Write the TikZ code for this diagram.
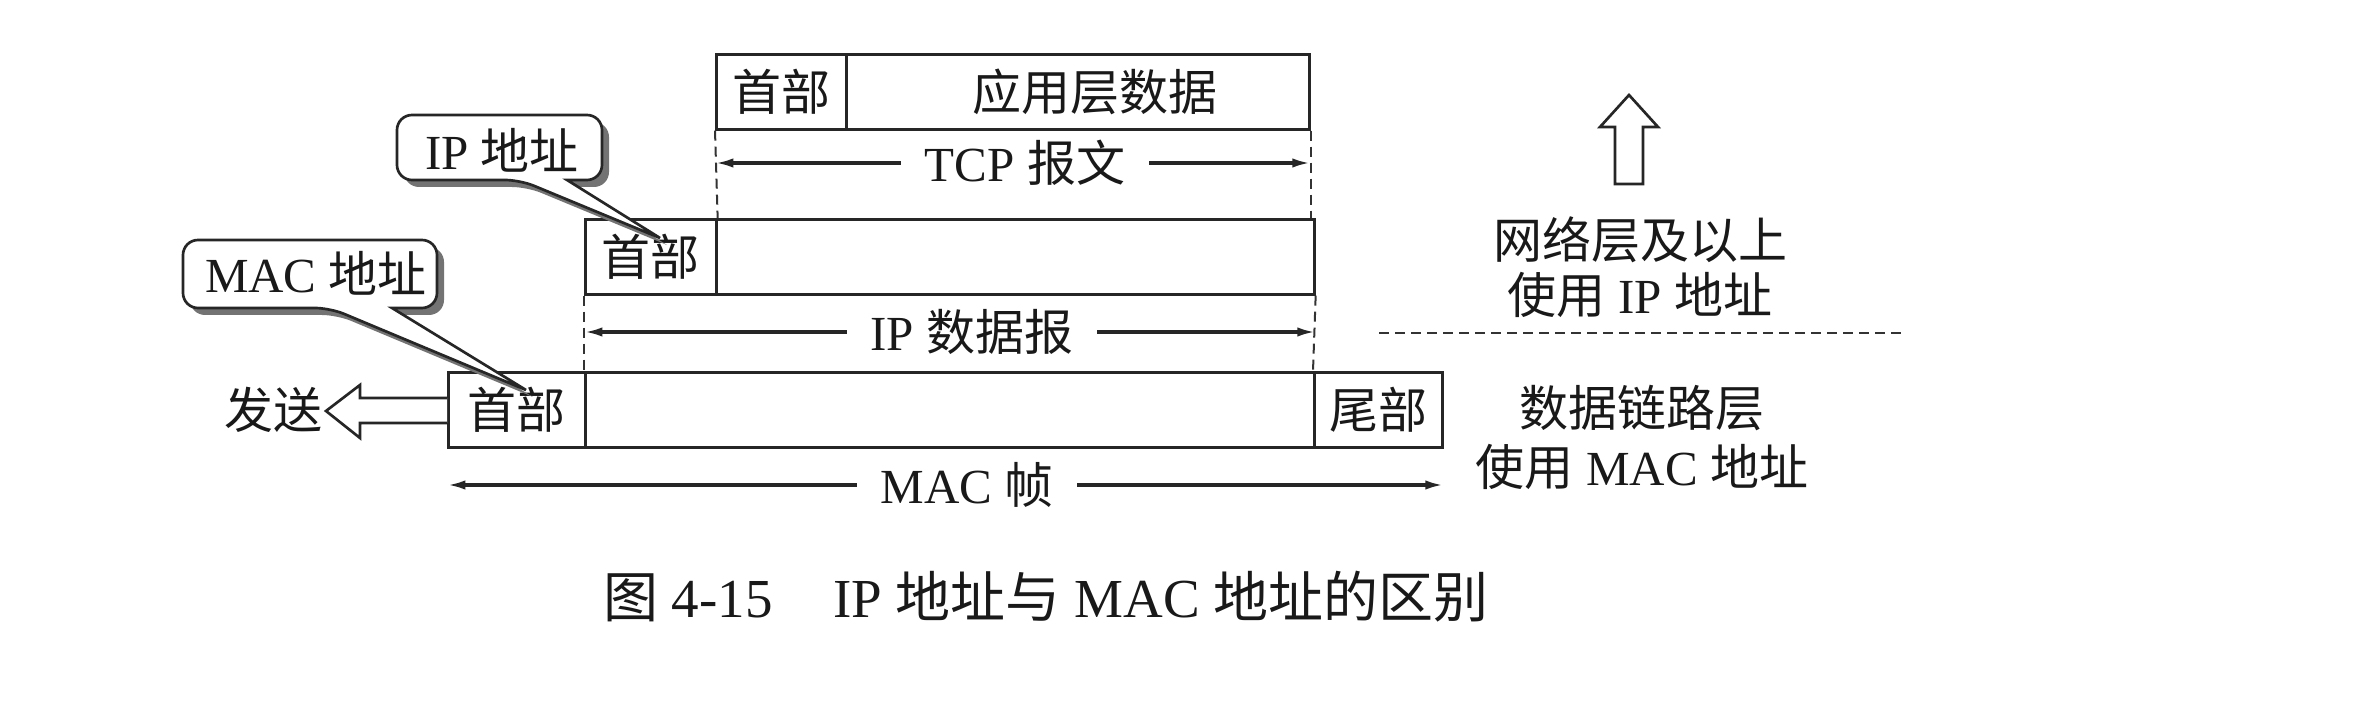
\documentclass[tikz,border=0pt]{standalone}
\usepackage{fontspec}
\setmainfont{Liberation Serif}
\newfontfamily\cjk{Noto Sans CJK SC}
\usetikzlibrary{arrows.meta,calc}
\newcommand{\zh}[1]{{\cjk #1}}
\newcommand{\upx}{0.3pt}
\newcommand{\fsmain}{\fontsize{14.7pt}{17pt}\selectfont}
\newcommand{\fscap}{\fontsize{16.5pt}{19pt}\selectfont}
% callout: x1 y1 x2 y2 (box), base-left x, base-right x, tip x, tip y
\newcommand{\mycallout}[8]{%
  \fill[black!55,shift={(7,7)}] (#6,#4) [rounded corners=4.5pt] -- (#3,#4) -- (#3,#2) -- (#1,#2) -- (#1,#4) -- (#5,#4) [sharp corners] -- (#7,#8) -- cycle;
  \filldraw[fill=white,draw=black!85,line width=0.8pt] (#6,#4) [rounded corners=4.5pt] -- (#3,#4) -- (#3,#2) -- (#1,#2) -- (#1,#4) -- (#5,#4) [sharp corners] -- (#7,#8) -- cycle;
}
\tikzset{
  cell/.style={draw=black!85, line width=0.8pt, minimum height=75*\upx, inner sep=0pt, anchor=north west, font=\fsmain, text=black!90},
  txt/.style={inner sep=0pt, font=\fsmain, text=black!90},
  lbl/.style={inner xsep=7pt, inner ysep=0pt, font=\fsmain, text=black!90},
  arr/.style={draw=black!85, line width=1pt, -{Latex[length=5.5pt,width=2.8pt]}},
  dashline/.style={draw=black!80, line width=0.6pt, dash pattern=on 3pt off 1.8pt},
  hollow/.style={draw=black!85, fill=white, line width=0.8pt, line join=miter}
}
\begin{document}
\begin{tikzpicture}[x=0.3pt,y=-0.3pt]
\useasboundingbox (0,0) rectangle (2363,704);
\fill[white] (0,0) rectangle (2363,704);

% TCP segment
\node[cell, minimum width=130*\upx] (tcph) at (715,53) {\zh{首部}};
\node[cell, minimum width=463*\upx] (tcpd) at (845,53) {\hspace{10pt}\zh{应用层数据}};
% IP datagram
\node[cell, minimum width=131*\upx] (iph) at (584,218) {\zh{首部}};
\node[cell, minimum width=598*\upx] (ipd) at (715,218) {};
% MAC frame
\node[cell, minimum width=137*\upx] (mach) at (447,371) {\zh{首部}};
\node[cell, minimum width=729*\upx] (macd) at (584,371) {};
\node[cell, minimum width=128*\upx] (mact) at (1313,371) {\zh{尾部}};

% dashed guides
\draw[dashline] (tcph.south west) -- (iph.north east);
\draw[dashline] (tcpd.south east) -- (tcpd.south east |- ipd.north);
\draw[dashline] (iph.south west) -- (macd.north west);
\draw[dashline] (ipd.south east) -- (mact.north west);

% span arrows
\node[lbl] (tcpl) at (1025,163) {TCP \zh{报文}};
\draw[arr] (tcpl.west) -- (tcpl.west -| tcph.west);
\draw[arr] (tcpl.east) -- (tcpl.east -| tcpd.east);
\node[lbl] (ipl) at (972,332) {IP \zh{数据报}};
\draw[arr] (ipl.west) -- (ipl.west -| iph.west);
\draw[arr] (ipl.east) -- (ipl.east -| ipd.east);
\node[lbl] (macl) at (967,485) {MAC \zh{帧}};
\draw[arr] (macl.west) -- (macl.west -| mach.west);
\draw[arr] (macl.east) -- (macl.east -| mact.east);

% callouts
\mycallout{397}{115}{602}{180}{520}{567}{660}{238}
\node[txt] (ipaddr) at (502,150) {IP \zh{地址}};
\mycallout{183}{240}{437}{308}{330}{392}{526}{390}
\node[txt] (macaddr) at (316,273) {MAC \zh{地址}};

% send arrow
\node[txt] (send) at (273,410) {\zh{发送}};
\draw[hollow] (447,398) -- (360,398) -- (360,385) -- (326,411) -- (360,438) -- (360,423) -- (447,423);

% up arrow
\draw[hollow] (1615,184) -- (1615,127) -- (1600,127) -- (1629,95) -- (1658,127) -- (1643,127) -- (1643,184) -- cycle;

% layer texts
\node[txt] (net1) at (1640,240) {\zh{网络层及以上}};
\node[txt] (net2) at (1640,295) {\zh{使用} IP \zh{地址}};
\coordinate (sepl) at (1379,333);
\coordinate (sepr) at (1905,333);
\draw[dashline] (sepl) -- (sepr);
\node[txt] (dl1) at (1642,408) {\zh{数据链路层}};
\node[txt] (dl2) at (1642,467) {\zh{使用} MAC \zh{地址}};

% caption
\node[txt, font=\fscap] (cap) at (1046,597) {\zh{图} 4-15\hspace{1.1em}IP \zh{地址与} MAC \zh{地址的区别}};
\end{tikzpicture}
\end{document}
